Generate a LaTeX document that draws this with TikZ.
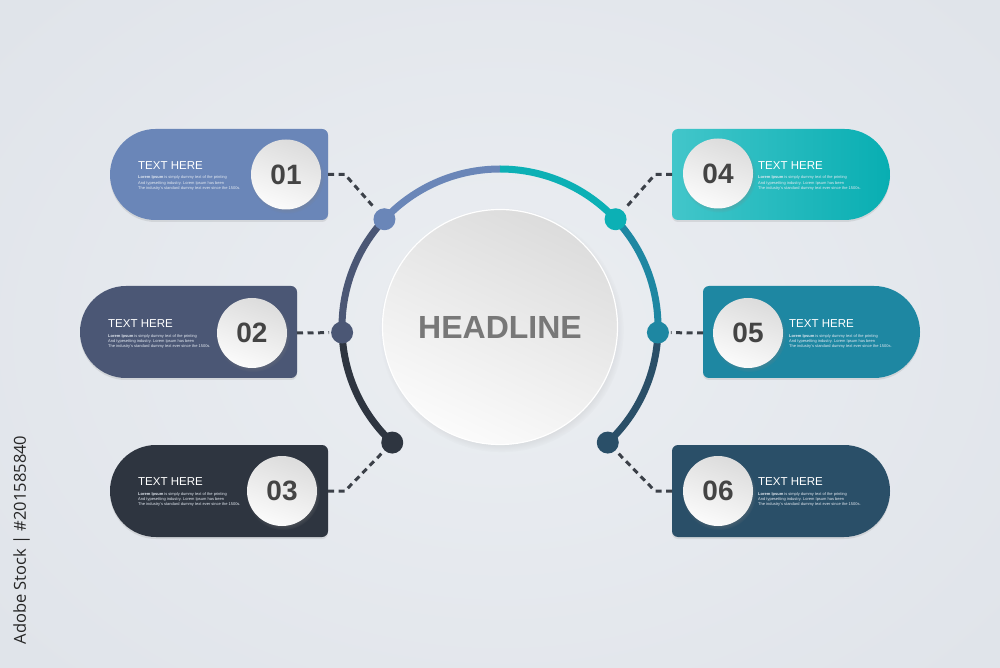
\documentclass[tikz,border=0pt]{standalone}
\usepackage{fontspec}
\setmainfont{Liberation Sans}
\newfontfamily\wmfont{Open Sans}
\usetikzlibrary{shadows,calc}

\definecolor{bgin}{HTML}{EBEEF2}
\definecolor{bgout}{HTML}{E0E4EA}
\definecolor{cA}{HTML}{6A86B8}
\definecolor{cB}{HTML}{4B5775}
\definecolor{cC}{HTML}{2E3540}
\definecolor{cDl}{HTML}{42C6CA}
\definecolor{cDr}{HTML}{08AEB2}
\definecolor{cD}{HTML}{0CB0B5}
\definecolor{cE}{HTML}{1E87A2}
\definecolor{cF}{HTML}{2A4F68}
\definecolor{dashc}{HTML}{3B4048}
\definecolor{numc}{HTML}{444444}
\definecolor{headc}{HTML}{787878}
\definecolor{circtop}{HTML}{DCDCDC}
\definecolor{circbot}{HTML}{FBFBFB}
\definecolor{lorc}{HTML}{E4EAF2}

\tikzset{
  boxshadow/.style={drop shadow={opacity=0.18,shadow xshift=0pt,shadow yshift=-2pt}},
  numcirc/.style={circle,minimum size=70pt,inner sep=0pt,
    top color=circtop,bottom color=circbot,shading angle=-20,
    circular drop shadow={shadow xshift=1pt,shadow yshift=-2pt,shadow scale=1.06,opacity=0.35},
    font=\bfseries\fontsize{28}{28}\selectfont,text=numc},
  dotn/.style={circle,minimum size=22pt,inner sep=0pt},
  arcline/.style={line width=7pt},
  dashline/.style={dashc,line width=3pt,dash pattern=on 6pt off 4.5pt},
  ttl/.style={anchor=base west,inner sep=0pt,text=white,font=\fontsize{11.5}{13}\selectfont},
  lor/.style={anchor=base west,inner sep=0pt,text=lorc,font=\fontsize{4}{5}\selectfont},
}

\newcommand\boxtext[3]{%
  \node[ttl] (t#1) at (#2,#3+5.3) {TEXT HERE};
  \node[lor] (la#1) at (#2,#3-4.2) {\textbf{Lorem Ipsum} is simply dummy text of the printing};
  \node[lor] (lb#1) at (#2,#3-9.8) {And typesetting industry. Lorem Ipsum has been};
  \node[lor] (lc#1) at (#2,#3-14.8) {The industry's standard dummy text ever since the 1500s.};
}

\begin{document}
\begin{tikzpicture}[x=1pt,y=1pt]
\useasboundingbox (0,0) rectangle (1000,667);
\shade[inner color=bgin,outer color=bgout] (-150,-150) rectangle (1150,817);

% vertical id text
\node[rotate=90,inner sep=0pt,text=black!85,font=\wmfont\fontsize{16.5}{17}\selectfont] (wm) at (21.5,127) {Adobe Stock | \#201585840};

% ---- boxes ----
% 01
\fill[cA,boxshadow] (155.5,538) arc[start angle=90,end angle=270,radius=45.5] -- (322,447) arc[start angle=270,end angle=360,radius=6] -- (328,532) arc[start angle=0,end angle=90,radius=6] -- cycle;
% 02
\fill[cB,boxshadow] (126,381) arc[start angle=90,end angle=270,radius=46] -- (291,289) arc[start angle=270,end angle=360,radius=6] -- (297,375) arc[start angle=0,end angle=90,radius=6] -- cycle;
% 03
\fill[cC,boxshadow] (156,222) arc[start angle=90,end angle=270,radius=46] -- (322,130) arc[start angle=270,end angle=360,radius=6] -- (328,216) arc[start angle=0,end angle=90,radius=6] -- cycle;
% 04
\path[left color=cDl,right color=cDr,boxshadow] (844.5,447) arc[start angle=-90,end angle=90,radius=45.5] -- (678,538) arc[start angle=90,end angle=180,radius=6] -- (672,453) arc[start angle=180,end angle=270,radius=6] -- cycle;
% 05
\fill[cE,boxshadow] (874,289) arc[start angle=-90,end angle=90,radius=46] -- (709,381) arc[start angle=90,end angle=180,radius=6] -- (703,295) arc[start angle=180,end angle=270,radius=6] -- cycle;
% 06
\fill[cF,boxshadow] (844,130) arc[start angle=-90,end angle=90,radius=46] -- (678,222) arc[start angle=90,end angle=180,radius=6] -- (672,136) arc[start angle=180,end angle=270,radius=6] -- cycle;

% box edge coordinates
\coordinate (b1) at (328,492.5);
\coordinate (b2) at (297,334);
\coordinate (b3) at (328,176);
\coordinate (b4) at (672,492.5);
\coordinate (b5) at (703,334);
\coordinate (b6) at (672,176);

% ---- texts in boxes ----
\boxtext{1}{138}{492.5}
\boxtext{2}{108}{334}
\boxtext{3}{138}{176}
\boxtext{4}{758}{492.5}
\boxtext{5}{789}{334}
\boxtext{6}{758}{176}

% ---- number circles ----
\node[numcirc] (n1) at (286,492.5) {01};
\node[numcirc] (n2) at (252,334) {02};
\node[numcirc] (n3) at (282,176) {03};
\node[numcirc] (n4) at (718,493.5) {04};
\node[numcirc] (n5) at (748,334) {05};
\node[numcirc] (n6) at (718,176) {06};

% ---- arc ----
\coordinate (C) at (500,340);
\draw[arcline,cA] ($(C)+(90:158)$) arc[start angle=90,end angle=137,radius=158];
\draw[arcline,cB] ($(C)+(137:158)$) arc[start angle=137,end angle=182,radius=158];
\draw[arcline,cC] ($(C)+(182:158)$) arc[start angle=182,end angle=227,radius=158];
\draw[arcline,cD] ($(C)+(90:158)$) arc[start angle=90,end angle=43,radius=158];
\draw[arcline,cE] ($(C)+(43:158)$) arc[start angle=43,end angle=-2,radius=158];
\draw[arcline,cF] ($(C)+(-2:158)$) arc[start angle=-2,end angle=-47,radius=158];

\node[dotn,fill=cA] (d1) at ($(C)+(137:158)$) {};
\node[dotn,fill=cB] (d2) at ($(C)+(182:158)$) {};
\node[dotn,fill=cC] (d3) at ($(C)+(227:158)$) {};
\node[dotn,fill=cD] (d4) at ($(C)+(43:158)$) {};
\node[dotn,fill=cE] (d5) at ($(C)+(-2:158)$) {};
\node[dotn,fill=cF] (d6) at ($(C)+(-47:158)$) {};

% ---- dashed connectors ----
\draw[dashline,shorten >=15pt] (b1) -- ++(17,0) -- (d1.center);
\draw[dashline,shorten >=13pt] (b2) -- (d2.center);
\draw[dashline,shorten >=15pt] (b3) -- ++(17,0) -- (d3.center);
\draw[dashline,shorten >=15pt] (b4) -- ++(-17,0) -- (d4.center);
\draw[dashline,shorten >=13pt] (b5) -- (d5.center);
\draw[dashline,shorten >=15pt] (b6) -- ++(-17,0) -- (d6.center);

% ---- headline circle ----
\node[circle,minimum size=235pt,inner sep=0pt,draw=white,line width=1.2pt,
  top color=circtop,bottom color=circbot,shading angle=-25,
  circular drop shadow={shadow xshift=1.5pt,shadow yshift=-3pt,shadow scale=1.04,opacity=0.3},
  font=\bfseries\fontsize{32}{32}\selectfont,text=headc] (hl) at (500,340) {HEADLINE};
\end{tikzpicture}
\end{document}
